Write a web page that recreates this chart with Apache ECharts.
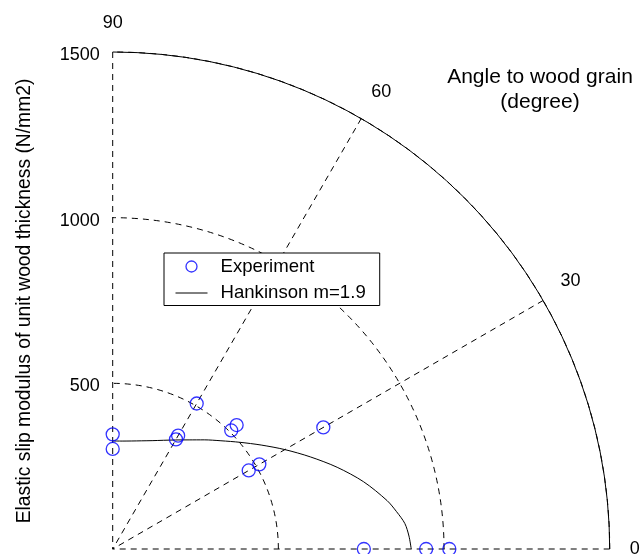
<!DOCTYPE html>
<html>
<head>
<meta charset="utf-8">
<script src="https://cdn.jsdelivr.net/npm/echarts@6.0.0/dist/echarts.min.js"></script>
<style>
  html, body { margin: 0; padding: 0; background: #ffffff; }
  #chart { width: 640px; height: 554px; }
</style>
</head>
<body>
<div id="chart"></div>
<script>
// Measured elastic slip modulus (N/mm2) against angle to the grain (degrees)
const expAngles  = [0, 0, 0, 30, 30, 30, 45, 45, 60, 60, 60, 90, 90];
const expModulus = [758, 946, 1016, 474, 511, 734, 506, 529, 382, 395, 507, 302, 346];

// Hankinson curve (m = 1.9)
const fitAngles  = [0, 2.5, 5, 7.5, 10, 15, 20, 25, 30, 35, 40, 45, 50, 55, 60, 65, 70, 75, 80, 85, 90];
const fitModulus = [901, 895, 885, 864, 841, 784, 721, 658, 600, 547, 501, 462, 430, 402, 380, 362, 348, 338, 331, 327, 326];

// Axis ranges and tick steps
const radiusMax = 1500;
const radiusStep = 500;
const angleMax = 90;
const angleStep = 30;

const seriesNames = ['Experiment', 'Hankinson m=1.9'];
const angleTitle = ['Angle to wood grain', '(degree)'];
const radiusTitle = 'Elastic slip modulus of unit wood thickness (N/mm2)';

const FONT = '"Liberation Sans", Arial, Helvetica, sans-serif';
const dashed = { color: '#000000', width: 1, type: [6, 5] };
const CENTER = [112.7, 549];
const RADIUS = 497;

const expData = expAngles.map((a, i) => [expModulus[i], a]);
const fitData = fitAngles.map((a, i) => [fitModulus[i], a]);

const chart = echarts.init(document.getElementById('chart'), null, { renderer: 'canvas' });

chart.setOption({
  animation: false,
  backgroundColor: '#ffffff',
  // polar 0 holds the grid and the data; polar 1 shares its geometry and only
  // carries the radius labels along the 90-degree spoke
  polar: [
    { center: CENTER, radius: RADIUS },
    { center: CENTER, radius: RADIUS }
  ],
  angleAxis: [
    {
      polarIndex: 0,
      type: 'value',
      min: 0,
      max: angleMax,
      interval: angleStep,
      startAngle: 0,
      endAngle: 90,
      clockwise: false,
      axisLine: { show: true, lineStyle: { color: '#000000', width: 1 } },
      axisTick: { show: false },
      axisLabel: { margin: 20, color: '#000000', fontSize: 18, fontFamily: FONT },
      splitLine: { show: true, lineStyle: dashed }
    },
    {
      polarIndex: 1,
      type: 'value',
      min: 0,
      max: angleMax,
      interval: angleStep,
      startAngle: 90,
      endAngle: 0,
      clockwise: true,
      axisLine: { show: false },
      axisTick: { show: false },
      axisLabel: { show: false },
      splitLine: { show: false }
    }
  ],
  radiusAxis: [
    {
      polarIndex: 0,
      type: 'value',
      min: 0,
      max: radiusMax,
      interval: radiusStep,
      axisLine: { show: false },
      axisTick: { show: false },
      axisLabel: { show: false },
      splitLine: { show: true, lineStyle: dashed }
    },
    {
      polarIndex: 1,
      type: 'value',
      min: 0,
      max: radiusMax,
      interval: radiusStep,
      axisLine: { show: false },
      axisTick: { show: false },
      axisLabel: {
        margin: 13, color: '#000000', fontSize: 18, fontFamily: FONT,
        formatter: v => (v === 0 ? '' : '{v|' + v + '}'),
        rich: {
          v: { color: '#000000', fontSize: 18, fontFamily: FONT, padding: [6, 0, 0, 0] }
        }
      },
      splitLine: { show: false }
    }
  ],
  legend: {
    orient: 'vertical',
    left: 164,
    top: 253,
    padding: [4, 14, 3, 11],
    itemGap: 7.5,
    itemWidth: 32,
    itemHeight: 11,
    backgroundColor: '#ffffff',
    borderColor: '#000000',
    borderWidth: 1,
    borderRadius: 0,
    textStyle: { color: '#000000', fontSize: 18.6, fontFamily: FONT, padding: [0, 0, 0, 8] },
    data: [
      { name: seriesNames[0], icon: 'circle',
        itemStyle: { color: 'rgba(0,0,0,0)', borderColor: '#0000ff', borderWidth: 1.3 } },
      { name: seriesNames[1],
        itemStyle: { color: 'rgba(0,0,0,0)', borderWidth: 0 },
        lineStyle: { color: '#000000', width: 1 } }
    ]
  },
  graphic: [
    {
      type: 'text', x: 540, y: 77,
      style: {
        text: angleTitle[0], fill: '#000000', font: '21px ' + FONT,
        align: 'center', verticalAlign: 'middle'
      }
    },
    {
      type: 'text', x: 540, y: 102,
      style: {
        text: angleTitle[1], fill: '#000000', font: '21px ' + FONT,
        align: 'center', verticalAlign: 'middle'
      }
    },
    {
      type: 'text', x: 25, y: 301, rotation: Math.PI / 2,
      style: {
        text: radiusTitle, fill: '#000000', font: '19.3px ' + FONT,
        align: 'center', verticalAlign: 'middle'
      }
    }
  ],
  series: [
    {
      name: seriesNames[1],
      type: 'line',
      coordinateSystem: 'polar',
      polarIndex: 0,
      data: fitData,
      symbol: 'none',
      smooth: 0.3,
      itemStyle: { color: 'rgba(0,0,0,0)' },
      lineStyle: { color: '#000000', width: 1 },
      z: 3
    },
    {
      name: seriesNames[0],
      type: 'scatter',
      coordinateSystem: 'polar',
      polarIndex: 0,
      data: expData,
      symbol: 'circle',
      symbolSize: 13,
      itemStyle: { color: 'rgba(0,0,0,0)', borderColor: '#0000ff', borderWidth: 1.3 },
      z: 4
    }
  ]
});
</script>
</body>
</html>
